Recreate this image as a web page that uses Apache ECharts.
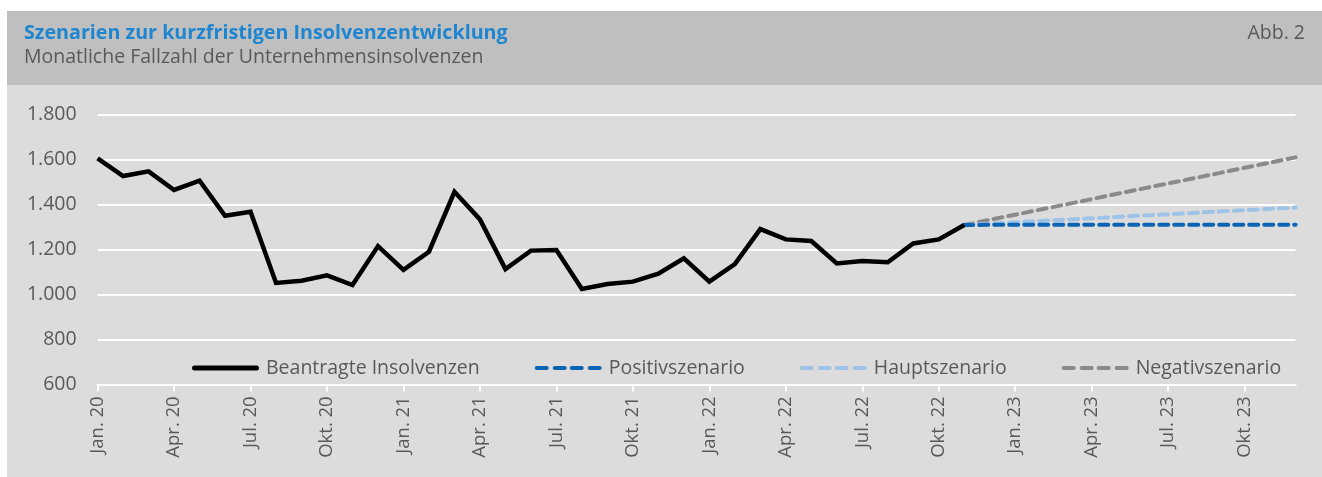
<!DOCTYPE html>
<html><head><meta charset="utf-8">
<script src="https://cdn.jsdelivr.net/npm/echarts@6/dist/echarts.min.js"></script>
<style>html,body{margin:0;padding:0;background:#fff}#c{width:1322px;height:477px}</style>
</head><body><div id="c"></div>
<script>
const categories = [
 "Jan. 20","Feb. 20","Mrz. 20","Apr. 20","Mai 20","Jun. 20","Jul. 20","Aug. 20","Sep. 20","Okt. 20","Nov. 20","Dez. 20",
 "Jan. 21","Feb. 21","Mrz. 21","Apr. 21","Mai 21","Jun. 21","Jul. 21","Aug. 21","Sep. 21","Okt. 21","Nov. 21","Dez. 21",
 "Jan. 22","Feb. 22","Mrz. 22","Apr. 22","Mai 22","Jun. 22","Jul. 22","Aug. 22","Sep. 22","Okt. 22","Nov. 22","Dez. 22",
 "Jan. 23","Feb. 23","Mrz. 23","Apr. 23","Mai 23","Jun. 23","Jul. 23","Aug. 23","Sep. 23","Okt. 23","Nov. 23","Dez. 23"
];
const beantragt = [1606,1527,1548,1465,1506,1350,1368,1051,1061,1085,1042,1215,
 1109,1190,1457,1334,1113,1195,1198,1024,1046,1057,1092,1161,
 1057,1135,1291,1245,1238,1138,1149,1143,1227,1245,1309];
const scenarioStart = 34; // Nov. 22
const positiv = [1309,1310,1310,1310,1310,1310,1310,1310,1310,1310,1310,1310,1310,1310];
const haupt   = [1309,1315,1321,1327,1333,1339,1345,1351,1357,1363,1369,1375,1381,1387];
const negativ = [1309,1332,1355,1378,1401,1424,1448,1471,1494,1517,1540,1564,1587,1610];
const yTicks = {min:600, max:1800, interval:200};

function pad(arr){ const out = new Array(scenarioStart).fill(null); return out.concat(arr); }
const fmt = v => String(v).replace(/\B(?=(\d{3})+(?!\d))/g, '.');
const FONT = '"Open Sans", "Noto Sans", sans-serif';
const grey = '#595959';
const FS = 19.5;
const dashIcon = 'path://M2,0h10a2,2 0 0 1 0,4h-10a2,2 0 0 1 0,-4z M20,0h10a2,2 0 0 1 0,4h-10a2,2 0 0 1 0,-4z M37,0h10a2,2 0 0 1 0,4h-10a2,2 0 0 1 0,-4z M55,0h10a2,2 0 0 1 0,4h-10a2,2 0 0 1 0,-4z';
const solidIcon = 'path://M2.5,0h62a2.5,2.5 0 0 1 0,5h-62a2.5,2.5 0 0 1 0,-5z';

const chart = echarts.init(document.getElementById('c'), null, {renderer:'canvas'});
chart.setOption({
  animation:false,
  textStyle:{fontFamily:FONT},
  graphic:[
    {type:'rect', shape:{x:7,y:11,width:1315,height:74}, style:{fill:'#bfbfbf'}, z:-10, silent:true},
    {type:'rect', shape:{x:7,y:85,width:1315,height:392}, style:{fill:'#dcdcdc'}, z:-10, silent:true},
    {type:'text', left:24, top:23, style:{text:'Szenarien zur kurzfristigen Insolvenzentwicklung', fill:'#1e86d0', font:'bold 19.7px '+FONT}},
    {type:'text', left:24, top:47, style:{text:'Monatliche Fallzahl der Unternehmensinsolvenzen', fill:grey, font:FS+'px '+FONT}},
    {type:'text', right:17, top:23, style:{text:'Abb. 2', fill:grey, font:FS+'px '+FONT}}
  ],
  grid:{left:97.6, right:26.4, top:114.7, bottom:92.7, containLabel:false},
  legend:{
    left:187, top:353, itemWidth:67, itemHeight:5, itemGap:55,
    textStyle:{color:grey, fontSize:FS, fontFamily:FONT, padding:[0,0,0,2]},
    data:[
      {name:'Beantragte Insolvenzen', icon:solidIcon, itemStyle:{color:'#000'}},
      {name:'Positivszenario', icon:dashIcon, itemStyle:{color:'#0b63b3'}},
      {name:'Hauptszenario', icon:dashIcon, itemStyle:{color:'#9dc3e6'}},
      {name:'Negativszenario', icon:dashIcon, itemStyle:{color:'#8a8a8a'}}
    ]
  },
  xAxis:{
    type:'category', data:categories, boundaryGap:false,
    axisLine:{lineStyle:{color:'#ffffff', width:2}},
    axisTick:{show:true, interval:2, length:7, lineStyle:{color:'#ffffff', width:2}},
    axisLabel:{interval:2, rotate:90, color:grey, fontSize:18.5, fontFamily:FONT, margin:12},
    splitLine:{show:false}
  },
  yAxis:{
    type:'value', min:yTicks.min, max:yTicks.max, interval:yTicks.interval,
    axisLine:{show:false}, axisTick:{show:false},
    axisLabel:{color:grey, fontSize:FS, fontFamily:FONT, margin:21, formatter:fmt},
    splitLine:{lineStyle:{color:'#ffffff', width:2}}
  },
  series:[
    {name:'Negativszenario', type:'line', data:pad(negativ), symbol:'none', z:3,
     lineStyle:{color:'#8a8a8a', width:4, type:[9,6], cap:'round'}, itemStyle:{color:'#8a8a8a'}},
    {name:'Hauptszenario', type:'line', data:pad(haupt), symbol:'none', z:4,
     lineStyle:{color:'#9dc3e6', width:4, type:[9,6], cap:'round'}, itemStyle:{color:'#9dc3e6'}},
    {name:'Positivszenario', type:'line', data:pad(positiv), symbol:'none', z:5,
     lineStyle:{color:'#0b63b3', width:4, type:[9,6], cap:'round'}, itemStyle:{color:'#0b63b3'}},
    {name:'Beantragte Insolvenzen', type:'line', data:beantragt, symbol:'none', z:6,
     lineStyle:{color:'#000000', width:4.5, join:'miter'}, itemStyle:{color:'#000'}}
  ]
});
</script></body></html>
